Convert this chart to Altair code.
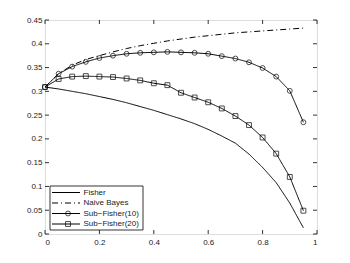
import altair as alt
import pandas as pd

x_vals = [0, 0.05, 0.1, 0.15, 0.2, 0.25, 0.3, 0.35, 0.4, 0.45,
          0.5, 0.55, 0.6, 0.65, 0.7, 0.75, 0.8, 0.85, 0.9, 0.95]
fisher = [0.309, 0.305, 0.300, 0.295, 0.289, 0.283, 0.276, 0.268, 0.260, 0.251,
          0.242, 0.232, 0.220, 0.206, 0.191, 0.168, 0.140, 0.108, 0.065, 0.013]
naive_bayes = [0.309, 0.337, 0.355, 0.367, 0.375, 0.383, 0.390, 0.396, 0.401, 0.406,
               0.410, 0.414, 0.417, 0.420, 0.423, 0.425, 0.427, 0.429, 0.431, 0.433]
sub_fisher10 = [0.309, 0.337, 0.352, 0.362, 0.370, 0.375, 0.379, 0.381, 0.382, 0.383,
                0.382, 0.381, 0.379, 0.374, 0.369, 0.361, 0.349, 0.331, 0.301, 0.235]
sub_fisher20 = [0.309, 0.326, 0.331, 0.332, 0.331, 0.330, 0.327, 0.323, 0.317, 0.313,
                0.297, 0.287, 0.277, 0.264, 0.248, 0.229, 0.203, 0.169, 0.120, 0.049]
names = ["Fisher", "Naive Bayes", "Sub\u2212Fisher(10)", "Sub\u2212Fisher(20)"]
x_ticks = [0, 0.2, 0.4, 0.6, 0.8, 1.0]
y_ticks = [0, 0.05, 0.1, 0.15, 0.2, 0.25, 0.3, 0.35, 0.4, 0.45]

W, H = 272, 214
FONT = "Liberation Sans"

rows = []
for name, series in zip(names, [fisher, naive_bayes, sub_fisher10, sub_fisher20]):
    for xv, yv in zip(x_vals, series):
        rows.append({"x": xv, "y": yv, "series": name})
df = pd.DataFrame(rows)

xs = alt.Scale(domain=[0, 1], nice=False, zero=False)
ys = alt.Scale(domain=[0, 0.45], nice=False, zero=False)
dash_scale = alt.Scale(domain=names, range=[[1, 0], [6, 3, 1, 3], [1, 0], [1, 0]])
shape_scale = alt.Scale(domain=names[2:], range=["circle", "square"])

ax_x = alt.Axis(values=x_ticks, format="~g", tickSize=0, domain=False,
                grid=False, title=None, labelFont=FONT, labelFontSize=8,
                labelColor="#222", labelPadding=4, labelOverlap=False)
ax_y = alt.Axis(values=y_ticks, format="~g", tickSize=0, domain=False,
                grid=False, title=None, labelFont=FONT, labelFontSize=8,
                labelColor="#222", labelPadding=3, labelOverlap=False)

base = alt.Chart(df)
lines = base.mark_line(color="black", strokeWidth=1).encode(
    x=alt.X("x:Q", scale=xs, axis=ax_x, title=None),
    y=alt.Y("y:Q", scale=ys, axis=ax_y, title=None),
    detail="series:N",
    strokeDash=alt.StrokeDash("series:N", scale=dash_scale, legend=None),
)
points = base.transform_filter(
    alt.FieldOneOfPredicate(field="series", oneOf=names[2:])
).mark_point(color="black", filled=False, strokeWidth=1, size=24).encode(
    x=alt.X("x:Q", scale=xs, axis=ax_x, title=None),
    y=alt.Y("y:Q", scale=ys, axis=ax_y, title=None),
    shape=alt.Shape("series:N", scale=shape_scale, legend=None),
)

xt = pd.DataFrame({"t": x_ticks})
yt = pd.DataFrame({"t": y_ticks})
tick_len = 4
xb = alt.Chart(xt).mark_rule(color="black", strokeWidth=0.8).encode(
    x=alt.X("t:Q", scale=xs, axis=ax_x, title=None), y=alt.value(H), y2=alt.value(H - tick_len))
xtop = alt.Chart(xt).mark_rule(color="black", strokeWidth=0.8).encode(
    x=alt.X("t:Q", scale=xs, axis=ax_x, title=None), y=alt.value(0), y2=alt.value(tick_len))
yl = alt.Chart(yt).mark_rule(color="black", strokeWidth=0.8).encode(
    y=alt.Y("t:Q", scale=ys, axis=ax_y, title=None), x=alt.value(0), x2=alt.value(tick_len))
yr = alt.Chart(yt).mark_rule(color="black", strokeWidth=0.8).encode(
    y=alt.Y("t:Q", scale=ys, axis=ax_y, title=None), x=alt.value(W), x2=alt.value(W - tick_len))

# Legend (inside plot, lower-left)
leg = pd.DataFrame({"series": names, "rank": [0, 1, 2, 3]})
leg_base = alt.Chart(leg).transform_calculate(py="172.5 + datum.rank * 10.5")
leg_box = alt.Chart(pd.DataFrame({"a": [0]})).mark_rect(
    fill="white", stroke="black", strokeWidth=0.8).encode(
    x=alt.value(5), x2=alt.value(98), y=alt.value(166), y2=alt.value(210))
leg_lines = leg_base.mark_rule(color="black", strokeWidth=1).encode(
    x=alt.value(7), x2=alt.value(35),
    y=alt.Y("py:Q", scale=None),
    strokeDash=alt.StrokeDash("series:N", scale=dash_scale, legend=None),
)
leg_pts = leg_base.transform_filter(
    alt.FieldOneOfPredicate(field="series", oneOf=names[2:])
).mark_point(color="black", filled=False, strokeWidth=1, size=24).encode(
    x=alt.value(23), y=alt.Y("py:Q", scale=None),
    shape=alt.Shape("series:N", scale=shape_scale, legend=None),
)
leg_text = leg_base.mark_text(align="left", baseline="middle", font=FONT, fontSize=8,
                              color="#222").encode(
    x=alt.value(38.5), y=alt.Y("py:Q", scale=None), text="series:N")

chart = alt.layer(
    lines, points, xb, xtop, yl, yr, leg_box, leg_lines, leg_pts, leg_text
).properties(
    width=W, height=H,
    autosize=alt.AutoSizeParams(type="none"),
    padding={"left": 37, "top": 12, "right": 25, "bottom": 21},
).configure_view(stroke="black", strokeWidth=0.8).configure(background="white")

chart.save("out.html", embed_options={"renderer": "svg", "actions": False})
